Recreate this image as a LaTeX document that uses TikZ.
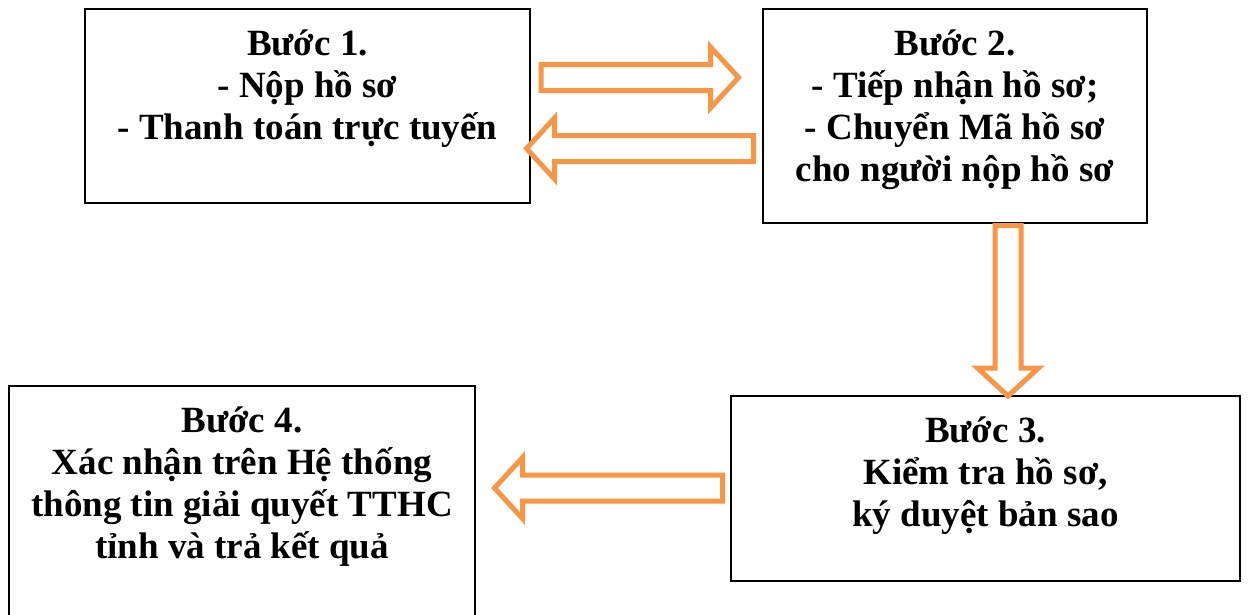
\documentclass[tikz,border=0pt]{standalone}
\usepackage{fontspec}
\setmainfont{Liberation Serif}
\usetikzlibrary{calc}
\definecolor{arroworange}{RGB}{247,150,70}
\tikzset{
  stepbox/.style={draw=black, line width=2.2pt, rectangle, inner sep=0pt, outer sep=0pt, fill=white},
  steptext/.style={anchor=base, inner sep=0pt, font=\bfseries\fontsize{37pt}{42.3pt}\selectfont},
  barrow/.style={draw=arroworange, line width=5pt, fill=white, line join=miter}
}
\newcommand\blockarrow[2]{%
  \coordinate (ba-h) at ($(#2)!28pt!(#1)$);
  \draw[barrow] ($(#1)!13pt!90:(#2)$) -- ($(ba-h)!13pt!-90:(#1)$) -- ($(ba-h)!30.5pt!-90:(#1)$) -- (#2)
     -- ($(ba-h)!30.5pt!90:(#1)$) -- ($(ba-h)!13pt!90:(#1)$) -- ($(#1)!13pt!-90:(#2)$) -- cycle;}
\begin{document}
\begin{tikzpicture}[x=1pt,y=-1pt]
\useasboundingbox (0,0) rectangle (1257,614);
\clip (0,0) rectangle (1257,614);
\fill[white] (0,0) rectangle (1257,614);
% boxes
\node[stepbox, minimum width=445pt, minimum height=194pt] (b1) at (307.5,106) {};
\node[stepbox, minimum width=384pt, minimum height=214pt] (b2) at (955,116) {};
\node[stepbox, minimum width=509pt, minimum height=185pt] (b3) at (985.5,488.5) {};
\node[stepbox, minimum width=466pt, minimum height=254pt] (b4) at (242,513) {};
% texts
\node[steptext] (t1) at ([yshift=-46pt]b1.north) {\parbox[t]{445pt}{\centering Bước 1.\\ - Nộp hồ sơ\\ - Thanh toán trực tuyến}};
\node[steptext] (t2) at ([yshift=-46pt]b2.north) {\parbox[t]{384pt}{\centering Bước 2.\\ - Tiếp nhận hồ sơ;\\ - Chuyển Mã hồ sơ\\ cho người nộp hồ sơ}};
\node[steptext] (t3) at ([yshift=-46pt]b3.north) {\parbox[t]{509pt}{\centering Bước 3.\\ Kiểm tra hồ sơ,\\ ký duyệt bản sao}};
\node[steptext] (t4) at ([yshift=-46pt]b4.north) {\parbox[t]{466pt}{\centering Bước 4.\\ Xác nhận trên Hệ thống\\ thông tin giải quyết TTHC\\ tỉnh và trả kết quả}};
% arrow end points
\coordinate (a1s) at ([xshift=11pt]b1.east |- 0,77.5);
\coordinate (a1e) at ([xshift=-24.5pt]b2.west |- 0,77.5);
\coordinate (a2s) at ([xshift=-9.5pt]b2.west |- 0,148.5);
\coordinate (a2e) at ([xshift=-3.5pt]b1.east |- 0,148.5);
\coordinate (a3s) at ([yshift=-2.5pt]b2.south -| 1008,0);
\coordinate (a3e) at (b3.north -| 1008,0);
\coordinate (a4s) at ([xshift=-8.5pt]b3.west |- 0,488);
\coordinate (a4e) at ([xshift=19.5pt]b4.east |- 0,488);
\blockarrow{a1s}{a1e}
\blockarrow{a2s}{a2e}
\blockarrow{a3s}{a3e}
\blockarrow{a4s}{a4e}
\end{tikzpicture}
\end{document}
